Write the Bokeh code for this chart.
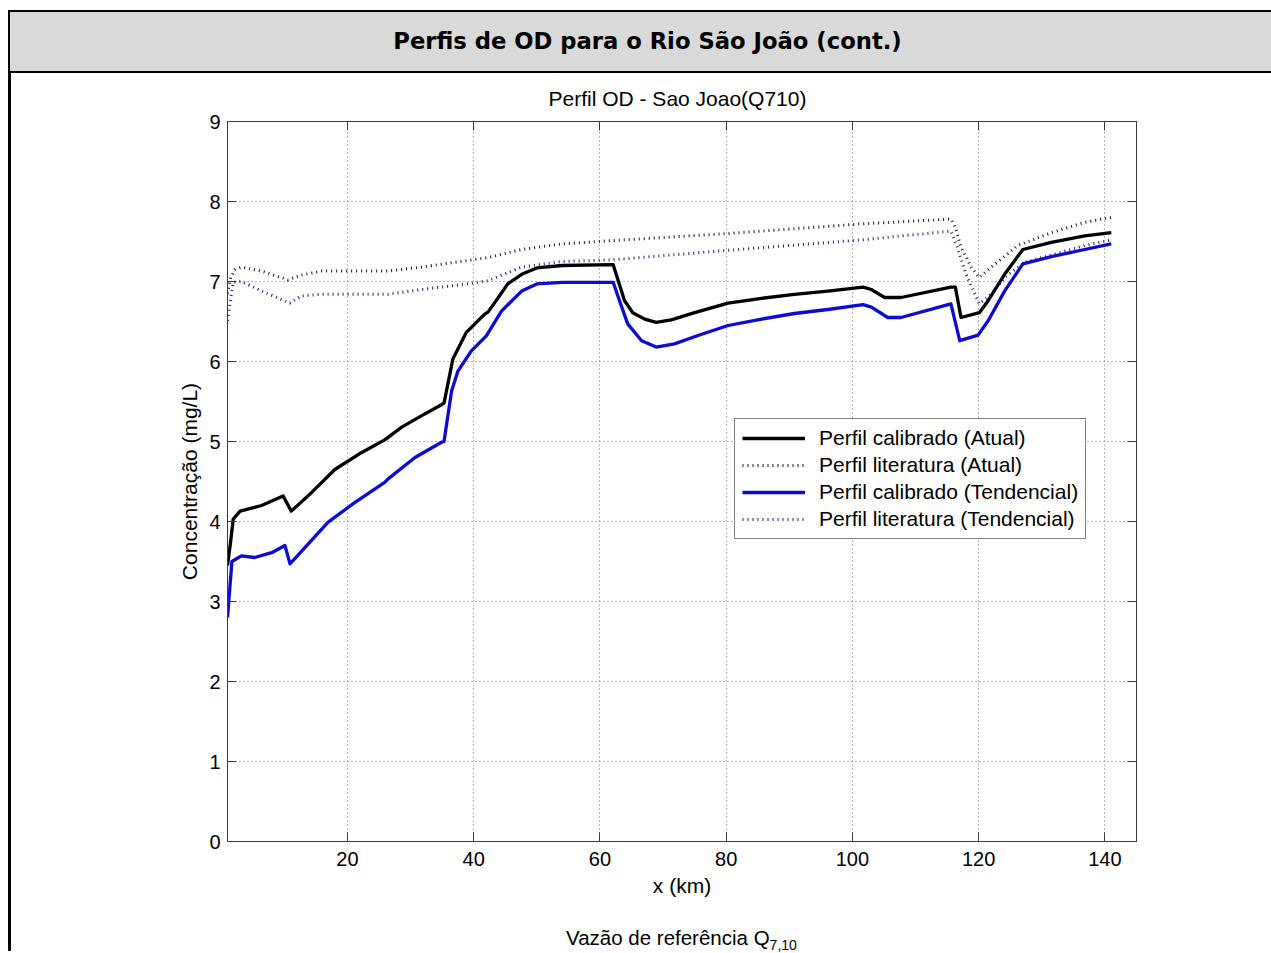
from bokeh.plotting import figure
from bokeh.models import (LinearAxis, FixedTicker, Legend, LegendItem, Range1d, Div)
from bokeh.layouts import column, row
from bokeh.embed import file_html
from bokeh.resources import INLINE

# ---------------- data ----------------
x_cal_atual = [1.0, 1.5, 1.9, 3.0, 6.4, 9.8, 11.1, 14.3, 18.0, 22.2, 25.9, 28.6, 31.7,
               34.9, 35.3, 36.7, 38.8, 41.7, 42.3, 43.9, 45.4, 47.6, 50.0, 54.0, 62.1,
               62.9, 63.9, 65.2, 67.1, 68.9, 71.3, 75.0, 80.3, 85.6, 90.8, 96.1, 101.7,
               103.0, 105.1, 107.7, 115.6, 116.3, 117.2, 120.1, 121.5, 124.1, 127.0,
               131.5, 136.8, 141.0]
y_cal_atual = [3.45, 3.75, 4.03, 4.13, 4.20, 4.32, 4.13, 4.36, 4.65, 4.86, 5.02, 5.18, 5.32,
               5.46, 5.48, 6.03, 6.36, 6.59, 6.62, 6.80, 6.97, 7.09, 7.17, 7.20, 7.21,
               7.01, 6.76, 6.61, 6.53, 6.49, 6.52, 6.61, 6.73, 6.79, 6.84, 6.88, 6.93,
               6.90, 6.80, 6.80, 6.93, 6.93, 6.55, 6.61, 6.76, 7.09, 7.40,
               7.49, 7.57, 7.61]

x_lit_atual = [1.0, 1.5, 2.2, 3.2, 6.4, 10.6, 12.7, 15.9, 21.2, 26.4, 31.7, 37.0, 42.3,
               47.6, 53.9, 61.8, 80.3, 101.4, 115.6, 116.3, 117.2, 118.8, 120.1, 122.0,
               126.2, 131.5, 136.8, 141.0]
y_lit_atual = [6.85, 7.05, 7.15, 7.18, 7.13, 7.02, 7.08, 7.13, 7.13, 7.13, 7.18, 7.24, 7.30,
               7.40, 7.47, 7.51, 7.60, 7.72, 7.78, 7.68, 7.43, 7.18, 7.05, 7.18,
               7.45, 7.61, 7.74, 7.80]

x_cal_tend = [1.0, 1.7, 3.2, 5.3, 8.0, 10.1, 10.9, 13.8, 16.9, 21.2, 25.9, 26.4, 30.7,
              34.9, 35.3, 36.5, 37.5, 39.6, 42.0, 44.4, 47.6, 50.0, 54.0, 62.1, 63.1,
              64.4, 66.6, 68.9, 71.8, 76.1, 80.3, 85.6, 90.8, 96.1, 101.7, 103.0, 105.6,
              107.7, 115.6, 117.0, 119.9, 121.5, 124.1, 127.0, 131.5, 136.8, 141.0]
y_cal_tend = [2.80, 3.50, 3.57, 3.55, 3.61, 3.70, 3.47, 3.72, 3.99, 4.24, 4.49, 4.53, 4.80,
              4.99, 5.00, 5.63, 5.88, 6.13, 6.32, 6.63, 6.88, 6.97, 6.99, 6.99, 6.76,
              6.47, 6.26, 6.18, 6.22, 6.34, 6.45, 6.53, 6.60, 6.65, 6.71, 6.68, 6.55,
              6.55, 6.72, 6.26, 6.33, 6.51, 6.88, 7.22, 7.31, 7.40, 7.47]

x_lit_tend = [1.0, 1.9, 3.2, 6.4, 10.9, 12.7, 15.9, 21.2, 26.4, 31.7, 37.0, 42.3, 47.6,
              53.9, 61.8, 80.3, 101.4, 115.6, 116.6, 118.0, 120.1, 122.0, 124.1, 127.3,
              131.5, 136.8, 141.0]
y_lit_tend = [6.51, 6.99, 7.00, 6.88, 6.73, 6.82, 6.84, 6.84, 6.84, 6.90, 6.95, 7.01, 7.18,
              7.25, 7.27, 7.39, 7.52, 7.63, 7.43, 7.09, 6.72, 6.84, 7.05, 7.24,
              7.33, 7.45, 7.52]

x_ticks = [20, 40, 60, 80, 100, 120, 140]
y_ticks = [0, 1, 2, 3, 4, 5, 6, 7, 8, 9]

series_labels = ["Perfil calibrado (Atual)", "Perfil literatura (Atual)",
                 "Perfil calibrado (Tendencial)", "Perfil literatura (Tendencial)"]

header_title = "Perfis de OD para o Rio São João (cont.)"
plot_title = "Perfil OD - Sao Joao(Q710)"
x_label = "x (km)"
y_label = "Concentração (mg/L)"
caption_main = "Vazão de referência Q"
caption_sub = "7,10"

FONT = "Liberation Sans"

# ---------------- figure ----------------
p = figure(width=1255, height=800, x_range=Range1d(1, 145), y_range=Range1d(0, 9),
           output_backend="svg", toolbar_location=None, title=None,
           min_border_left=216, min_border_right=130, min_border_top=10,
           min_border_bottom=70)
p.background_fill_color = "white"
p.border_fill_color = "white"
p.outline_line_color = "#3a3a3a"
p.outline_line_width = 1

for ax in (p.xaxis[0], p.yaxis[0]):
    ax.major_tick_in = 9
    ax.major_tick_out = 0
    ax.minor_tick_in = 0
    ax.minor_tick_out = 0
    ax.axis_line_color = "#3a3a3a"
    ax.major_tick_line_color = "#3a3a3a"
    ax.major_label_text_font = FONT
    ax.major_label_text_font_size = "20px"
    ax.major_label_text_color = "black"
    ax.axis_label_text_font = FONT
    ax.axis_label_text_font_size = "21px"
    ax.axis_label_text_font_style = "normal"
    ax.axis_label_text_color = "black"

p.xaxis[0].ticker = FixedTicker(ticks=x_ticks)
p.yaxis[0].ticker = FixedTicker(ticks=y_ticks)
p.xaxis[0].major_label_standoff = 10
p.yaxis[0].major_label_standoff = 7
p.xaxis[0].axis_label = x_label
p.xaxis[0].axis_label_standoff = 5
p.yaxis[0].axis_label = y_label
p.yaxis[0].axis_label_standoff = 5

top_ax = LinearAxis(ticker=FixedTicker(ticks=x_ticks),
                    major_label_overrides={t: "" for t in x_ticks})
right_ax = LinearAxis(ticker=FixedTicker(ticks=y_ticks),
                      major_label_overrides={t: "" for t in y_ticks})
for ax in (top_ax, right_ax):
    ax.major_tick_in = 9
    ax.major_tick_out = 0
    ax.minor_tick_in = 0
    ax.minor_tick_out = 0
    ax.major_label_standoff = 0
    ax.axis_line_color = "#3a3a3a"
    ax.major_tick_line_color = "#3a3a3a"
    ax.major_label_text_font_size = "1px"
p.add_layout(top_ax, "above")
p.add_layout(right_ax, "right")

for g in (p.xgrid[0], p.ygrid[0]):
    g.grid_line_color = "#6a6a6a"
    g.grid_line_dash = "1 3"
    g.grid_line_width = 1
p.xgrid[0].ticker = FixedTicker(ticks=x_ticks)
p.ygrid[0].ticker = FixedTicker(ticks=y_ticks)

r1 = p.line(x_cal_atual, y_cal_atual, line_color="black", line_width=3.3,
            line_join="round")
r2 = p.line(x_lit_atual, y_lit_atual, line_color="#161616", line_width=3,
            line_dash="1 4")
r3 = p.line(x_cal_tend, y_cal_tend, line_color="#0b0bd6", line_width=3.3,
            line_join="round")
r4 = p.line(x_lit_tend, y_lit_tend, line_color="#1c1c82", line_width=3,
            line_dash="1 4")

legend = Legend(items=[LegendItem(label=series_labels[0], renderers=[r1]),
                       LegendItem(label=series_labels[1], renderers=[r2]),
                       LegendItem(label=series_labels[2], renderers=[r3]),
                       LegendItem(label=series_labels[3], renderers=[r4])],
                location=(507, 302))
legend.label_text_font = FONT
legend.label_text_font_size = "21px"
legend.label_text_color = "black"
legend.glyph_width = 63
legend.glyph_height = 24
legend.label_height = 24
legend.label_standoff = 14
legend.spacing = 3
legend.padding = 7
legend.margin = 0
legend.border_line_color = "black"
legend.border_line_width = 1
legend.background_fill_color = "white"
legend.background_fill_alpha = 1
p.add_layout(legend)

# ---------------- page decorations as HTML ----------------
header_html = (
    '<div style="box-sizing:border-box;margin:10px 0 0 8px;width:1263px;height:63px;'
    'background:#d9d9d9;border:2.5px solid black;border-right:none;'
    'display:flex;align-items:center;justify-content:center;padding-left:14px;">'
    '<span style="font-family:\'DejaVu Sans\';font-weight:bold;font-size:22.7px;'
    'color:black;white-space:nowrap;">' + header_title + '</span></div>'
)
header_div = Div(text=header_html, width=1271, height=73, margin=0)

bar_div = Div(text='<div style="margin-left:8px;width:2.5px;height:878px;'
                   'background:black;"></div>', width=11, height=878, margin=0)

subtitle_div = Div(
    text=('<div style="box-sizing:border-box;width:1255px;margin-top:13.5px;'
          'padding-left:78px;text-align:center;font-family:\'Liberation Sans\';'
          'font-size:21px;line-height:24px;color:black;white-space:nowrap;">'
          + plot_title + '</div>'),
    width=1255, height=38, margin=0)

caption_div = Div(
    text=('<div style="margin-top:15px;padding-left:555px;'
          'font-family:\'Liberation Sans\';font-size:20.5px;line-height:24px;'
          'color:black;white-space:nowrap;">' + caption_main +
          '<span style="font-size:14px;position:relative;top:5px;">' + caption_sub +
          '</span></div>'),
    width=1255, height=40, margin=0)

layout = column(header_div,
                row(bar_div, column(subtitle_div, p, caption_div, spacing=0), spacing=0),
                spacing=0)

open("out.html", "w").write(file_html(layout, INLINE))
